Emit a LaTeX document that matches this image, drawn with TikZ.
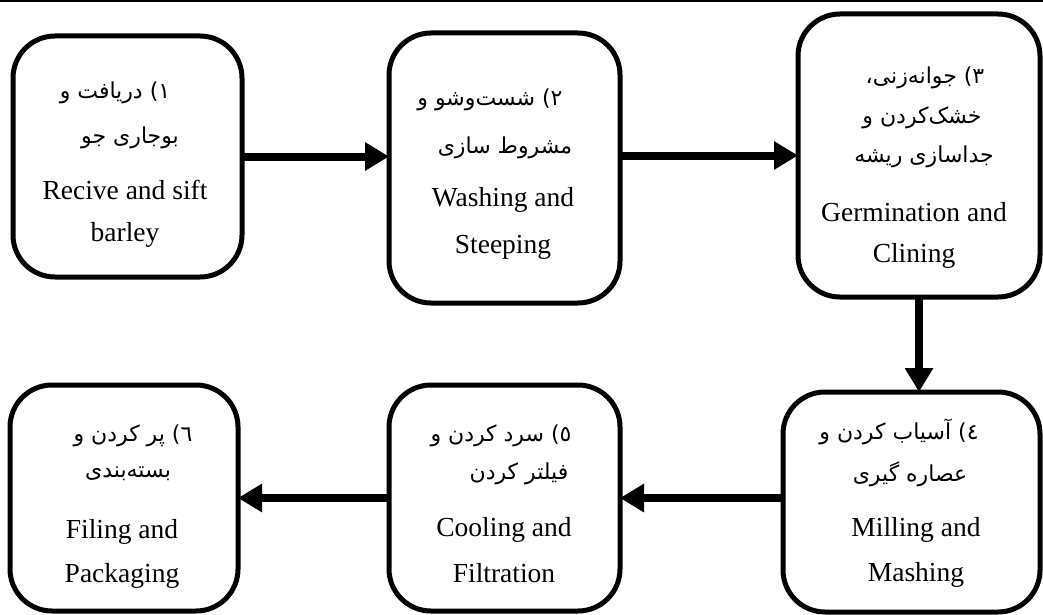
\documentclass[tikz,border=0pt]{standalone}
\usepackage{fontspec}
\setmainfont{Liberation Serif}
\newfontfamily\fa[Script=Arabic]{DejaVu Sans}
\TeXXeTstate=1
\usetikzlibrary{arrows.meta}
\tikzset{
  box/.style={draw=black, line width=5pt, rounded corners=42pt, inner sep=0pt, outer sep=0pt},
  arr/.style={line width=8pt, -{Triangle[length=24pt,width=27pt]}},
  en/.style={font=\fontsize{27.5}{30}\selectfont, inner sep=0pt},
  fat/.style={font=\fa\fontsize{22}{25}\selectfont, inner sep=0pt}
}
\newcommand{\rtl}[1]{\beginR #1\endR}
\begin{document}
\begin{tikzpicture}[x=1pt,y=-1pt]
\useasboundingbox (0,0) rectangle (1043,615);
\draw[line width=1.2pt] (0,1) -- (1043,1);
% boxes
\node[box, minimum width=229pt, minimum height=241pt] (b1) at (127.5,156.5) {};
\node[box, minimum width=231pt, minimum height=270pt] (b2) at (504.5,168) {};
\node[box, minimum width=242pt, minimum height=283pt] (b3) at (919,155.5) {};
\node[box, minimum width=257pt, minimum height=220pt] (b4) at (911.5,502) {};
\node[box, minimum width=231pt, minimum height=226pt] (b5) at (504.5,498) {};
\node[box, minimum width=228pt, minimum height=226pt] (b6) at (124,498) {};
% texts box 1
\node[fat] (t1a) at (115,93) {\rtl{١) دریافت و}};
\node[fat] (t1b) at (130,138) {\rtl{بوجاری جو}};
\node[en] (t1c) at (125,190) {Recive and sift};
\node[en] (t1d) at (125,235) {barley};
% box 2
\node[fat] (t2a) at (490,100) {\rtl{٢) شست‌وشو و}};
\node[fat] (t2b) at (505,148) {\rtl{مشروط سازی}};
\node[en] (t2c) at (503,200) {Washing and};
\node[en] (t2d) at (503,247) {Steeping};
% box 3
\node[fat] (t3a) at (925,78) {\rtl{٣) جوانه‌زنی،}};
\node[fat] (t3b) at (922,118) {\rtl{خشک‌کردن و}};
\node[fat] (t3c) at (924,157) {\rtl{جداسازی ریشه}};
\node[en] (t3d) at (914,212) {Germination and};
\node[en] (t3e) at (914,256) {Clining};
% box 4
\node[fat] (t4a) at (899,432) {\rtl{٤) آسیاب کردن و}};
\node[fat] (t4b) at (910,474) {\rtl{عصاره گیری}};
\node[en] (t4c) at (916,530) {Milling and};
\node[en] (t4d) at (916,575) {Mashing};
% box 5
\node[fat] (t5a) at (501,436) {\rtl{٥) سرد کردن و}};
\node[fat] (t5b) at (519,474) {\rtl{فیلتر کردن}};
\node[en] (t5c) at (504,530) {Cooling and};
\node[en] (t5d) at (504,573) {Filtration};
% box 6
\node[fat] (t6a) at (133,436) {\rtl{٦) پر کردن و}};
\node[fat] (t6b) at (128,474) {\rtl{بسته‌بندی}};
\node[en] (t6c) at (122,532) {Filing and};
\node[en] (t6d) at (122,576) {Packaging};
% arrows
\draw[arr] (b1.east) -- (b1.east -| b2.west);
\draw[arr] (b3.west -| b2.east) -- (b3.west);
\draw[arr] (b3.south) -- (b3.south |- b4.north);
\draw[arr] (b5.east -| b4.west) -- (b5.east);
\draw[arr] (b5.west) -- (b6.east);
\end{tikzpicture}
\end{document}
